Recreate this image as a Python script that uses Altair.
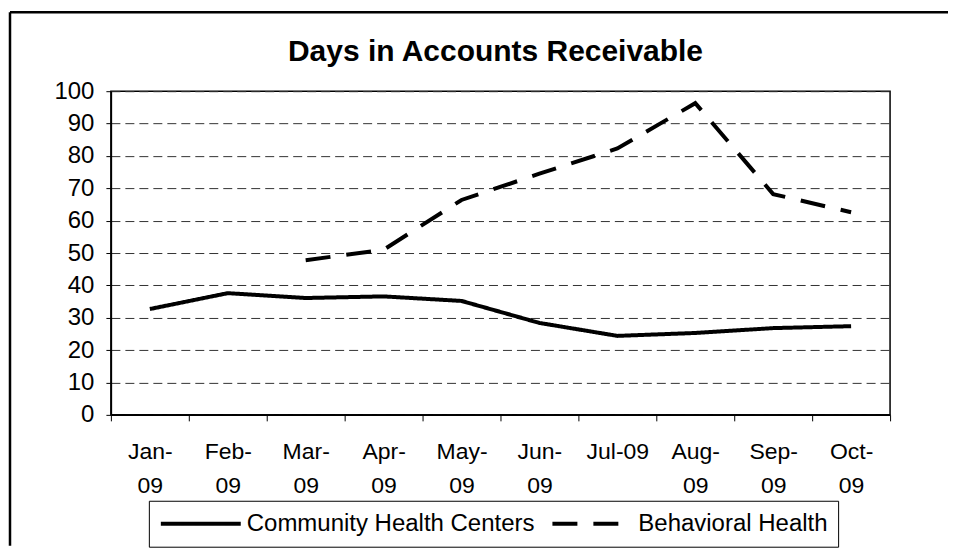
import altair as alt
import pandas as pd

title_text = "Days in Accounts Receivable"
months = ["Jan-09", "Feb-09", "Mar-09", "Apr-09", "May-09",
          "Jun-09", "Jul-09", "Aug-09", "Sep-09", "Oct-09"]
series = ["Community Health Centers", "Behavioral Health"]
chc = [32.7, 37.6, 36.1, 36.6, 35.2, 28.4, 24.4, 25.3, 26.8, 27.4]
bh = [None, None, 47.8, 51.0, 66.4, 74.5, 82.3, 96.3, 68.2, 62.6]
y_ticks = [0, 10, 20, 30, 40, 50, 60, 70, 80, 90, 100]

rows = []
for m, v in zip(months, chc):
    rows.append({"month": m, "series": series[0], "value": v})
for m, v in zip(months, bh):
    if v is not None:
        rows.append({"month": m, "series": series[1], "value": v})
df = pd.DataFrame(rows)

W, H = 780, 324
FONT = "Liberation Sans"

legend = alt.Legend(title=None, orient="none", legendX=38, legendY=410,
                    direction="horizontal")

lines = alt.Chart(df).mark_line(strokeWidth=4, interpolate="linear").encode(
    x=alt.X("month:N", sort=months, bandPosition=0.5,
            scale=alt.Scale(type="band", domain=months, paddingInner=0, paddingOuter=0),
            axis=alt.Axis(title=None, labelAngle=0, tickBand="extent", tickSize=6,
                          labelPadding=20, labelFontSize=23, labelLineHeight=34,
                          labelColor="black", domainColor="black", tickColor="black",
                          domainWidth=1.5, grid=False,
                          labelExpr="!isValid(datum.value) ? '' : (datum.value == 'Jul-09' ? datum.value : [substring(datum.value,0,4), substring(datum.value,4)])")),
    y=alt.Y("value:Q", scale=alt.Scale(domain=[0, 100], nice=False),
            axis=alt.Axis(title=None, values=y_ticks, tickSize=5, labelPadding=12,
                          labelFontSize=24, labelColor="black", domainColor="black",
                          tickColor="black", domainWidth=1.5,
                          grid=True, gridColor="#333333", gridDash=[9, 5], gridWidth=1)),
    color=alt.Color("series:N", scale=alt.Scale(domain=series, range=["black", "black"]),
                    legend=legend),
    strokeDash=alt.StrokeDash("series:N", scale=alt.Scale(domain=series, range=[[1, 0], [25, 16]]),
                              legend=legend),
)

title = alt.Chart(pd.DataFrame({"t": [title_text]})).mark_text(
    font=FONT, fontSize=30, fontWeight="bold", color="black", align="center", baseline="alphabetic"
).encode(text="t:N", x=alt.value(385), y=alt.value(-30))

frame = pd.DataFrame({"k": [0]})
top_rule = alt.Chart(frame).mark_rule(color="black", strokeWidth=2.5).encode(
    x=alt.value(-101), x2=alt.value(838), y=alt.value(-79))
left_rule = alt.Chart(frame).mark_rule(color="black", strokeWidth=2.5).encode(
    x=alt.value(-101), y=alt.value(-79), y2=alt.value(455))

chart = alt.layer(lines, title, top_rule, left_rule).properties(
    width=W, height=H,
    padding={"left": 0, "top": 2, "right": 0, "bottom": 0},
    background="white",
).configure(font=FONT).configure_view(
    stroke="black", strokeWidth=1.5
).configure_legend(
    labelFontSize=24, labelFont=FONT, labelColor="black", symbolType="stroke",
    symbolSize=6400, symbolStrokeWidth=4, strokeColor="black", fillColor="white",
    padding=10, labelOffset=4, columnPadding=15, clipHeight=26, labelLimit=400
)

chart.save("out.html", embed_options={"renderer": "svg", "actions": False})
